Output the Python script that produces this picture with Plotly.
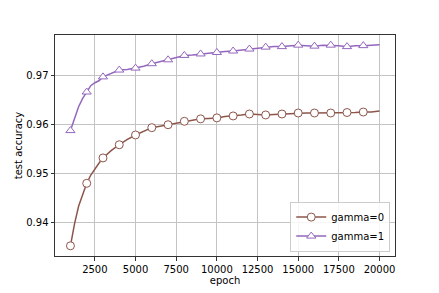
import plotly.graph_objects as go

epochs = [1000, 1250, 1500, 1750, 2000, 2250, 2500, 2750, 3000,
          3500, 4000, 4500, 5000, 5500, 6000, 6500, 7000, 7500, 8000,
          8500, 9000, 9500, 10000, 10500, 11000, 11500, 12000, 12500,
          13000, 13500, 14000, 14500, 15000, 15500, 16000, 16500, 17000,
          17500, 18000, 18500, 19000, 19500, 20000]

acc_gamma0 = [0.9352, 0.9397, 0.9433, 0.9457, 0.9480, 0.9497, 0.9510, 0.9521, 0.9532,
              0.9547, 0.9559, 0.9570, 0.9579, 0.9587, 0.9594, 0.9597, 0.9600, 0.9604, 0.9607,
              0.9609, 0.9612, 0.9613, 0.9614, 0.9617, 0.9618, 0.9620, 0.9622, 0.9621,
              0.9620, 0.9621, 0.9622, 0.9623, 0.9624, 0.9624, 0.9624, 0.9624, 0.9624,
              0.9625, 0.9625, 0.9625, 0.9626, 0.9626, 0.9628]

acc_gamma1 = [0.9588, 0.9615, 0.9637, 0.9654, 0.9667, 0.9680, 0.9686, 0.9690, 0.9698,
              0.9705, 0.9712, 0.9713, 0.9716, 0.9720, 0.9725, 0.9729, 0.9733, 0.9737, 0.9742,
              0.9743, 0.9745, 0.9747, 0.9748, 0.9750, 0.9751, 0.9753, 0.9755, 0.9757,
              0.9759, 0.9760, 0.9760, 0.9762, 0.9763, 0.9762, 0.9761, 0.9763, 0.9763,
              0.9762, 0.9760, 0.9762, 0.9762, 0.9763, 0.9764]

series_names = ["gamma=0", "gamma=1"]
x_ticks = [2500, 5000, 7500, 10000, 12500, 15000, 17500, 20000]
y_ticks = [0.94, 0.95, 0.96, 0.97]

marker_idx = [i for i, e in enumerate(epochs) if e % 1000 == 0 and e < 20000]

FONT = "DejaVu Sans"
fig = go.Figure()
styles = [("#8c564b", "circle"), ("#9467bd", "triangle-up")]
for name, vals, (col, sym) in zip(series_names, [acc_gamma0, acc_gamma1], styles):
    fig.add_trace(go.Scatter(
        x=epochs, y=vals, name=name, mode="lines+markers",
        line=dict(color=col, width=1.5),
        marker=dict(symbol=sym, size=8, color="white", line=dict(color=col, width=1)),
        selectedpoints=marker_idx,
        unselected=dict(marker=dict(opacity=0)),
    ))

axis_common = dict(
    showline=True, mirror=True, linecolor="#333333", linewidth=1,
    ticks="outside", ticklen=3.5, tickwidth=0.8, tickcolor="#333333",
    showgrid=True, gridcolor="#c4c4c4", gridwidth=0.8, zeroline=False,
    tickfont=dict(family=FONT, size=10, color="black"),
    automargin=False,
)

# page body has an 8px default margin; margins below compensate for it
fig.update_layout(
    width=439, height=293,
    margin=dict(l=46.5, r=52.3, t=26.7, b=45),
    paper_bgcolor="white", plot_bgcolor="white",
    font=dict(family=FONT, size=10, color="black"),
    showlegend=True,
    legend=dict(
        x=0.986, y=0.02, xanchor="right", yanchor="bottom",
        bgcolor="rgba(255,255,255,0.85)", bordercolor="#cccccc", borderwidth=1,
        font=dict(family=FONT, size=10, color="black"),
        tracegroupgap=0, itemwidth=30,
    ),
    xaxis=dict(range=[50, 20950], tickvals=x_ticks, ticktext=[str(v) for v in x_ticks],
               title=dict(text="epoch", font=dict(family=FONT, size=10), standoff=2),
               **axis_common),
    yaxis=dict(range=[0.93311, 0.97838], tickvals=y_ticks, ticktext=[f"{v:.2f}" for v in y_ticks],
               title=dict(text="test accuracy", font=dict(family=FONT, size=10), standoff=1),
               **axis_common),
)

fig.write_html("out.html")
